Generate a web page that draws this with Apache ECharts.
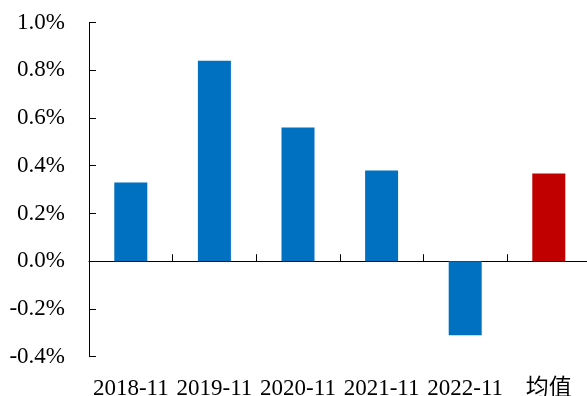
<!DOCTYPE html>
<html>
<head>
<meta charset="utf-8">
<script src="https://cdn.jsdelivr.net/npm/echarts@6/dist/echarts.min.js"></script>
<style>
  html, body { margin: 0; padding: 0; background: #fff; }
  #chart { width: 587px; height: 396px; }
</style>
</head>
<body>
<div id="chart"></div>
<script>
// Monthly return (%) for each November, plus the average
const categories = ['2018-11', '2019-11', '2020-11', '2021-11', '2022-11', '均值'];
const returns = [0.33, 0.84, 0.56, 0.38, -0.31, 0.367];
const barColors = ['#0070C0', '#0070C0', '#0070C0', '#0070C0', '#0070C0', '#C00000'];
const yMin = -0.4, yMax = 1.0, yStep = 0.2;

const font = "'Liberation Serif', 'Times New Roman', 'Noto Sans CJK SC', serif";

const chart = echarts.init(document.getElementById('chart'));
chart.setOption({
  animation: false,
  backgroundColor: '#fff',
  grid: {
    left: 89, right: -3.6, top: 22.5, bottom: 39.3,
    containLabel: false, outerBoundsMode: 'none'
  },
  xAxis: [
    {
      // zero line with category dividers
      type: 'category',
      data: categories,
      axisLine: { onZero: true, lineStyle: { color: '#000', width: 1 } },
      axisTick: { show: true, inside: true, length: 7, lineStyle: { color: '#000' } },
      axisLabel: { show: false },
      splitLine: { show: false }
    },
    {
      // category names along the bottom
      type: 'category',
      data: categories,
      position: 'bottom',
      axisLine: { show: false, onZero: false },
      axisTick: { show: false },
      axisLabel: {
        show: true, interval: 0, margin: 21,
        color: '#000', fontFamily: font, fontSize: 23
      },
      splitLine: { show: false }
    }
  ],
  yAxis: {
    type: 'value',
    min: yMin, max: yMax, interval: yStep,
    axisLine: { show: true, lineStyle: { color: '#000', width: 1 } },
    axisTick: { show: true, inside: true, length: 7, lineStyle: { color: '#000' } },
    axisLabel: {
      margin: 24, color: '#000', fontFamily: font, fontSize: 23,
      formatter: v => v.toFixed(1) + '%'
    },
    splitLine: { show: false }
  },
  series: [{
    type: 'bar',
    xAxisIndex: 0,
    barWidth: 33,
    data: returns.map((v, i) => ({ value: v, itemStyle: { color: barColors[i] } }))
  }]
});
</script>
</body>
</html>
